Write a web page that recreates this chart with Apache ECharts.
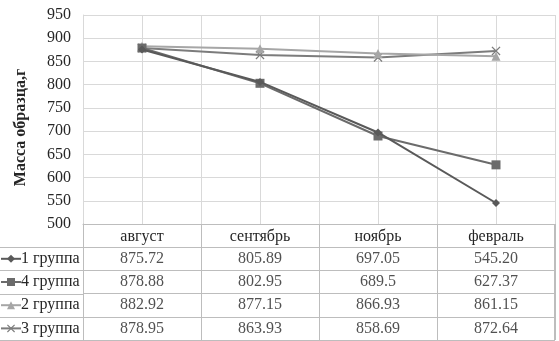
<!DOCTYPE html>
<html>
<head>
<meta charset="utf-8">
<script src="https://cdn.jsdelivr.net/npm/echarts@6/dist/echarts.min.js"></script>
<style>
  html, body { margin: 0; padding: 0; background: #fff; }
  #chart { width: 559px; height: 341px; }
</style>
</head>
<body>
<div id="chart"></div>
<script>
// Months of the sampling campaign
const months = ['август', 'сентябрь', 'ноябрь', 'февраль'];

// Sample mass per group, as printed in the data table (g)
const group1 = ['875.72', '805.89', '697.05', '545.20'];
const group4 = ['878.88', '802.95', '689.5', '627.37'];
const group2 = ['882.92', '877.15', '866.93', '861.15'];
const group3 = ['878.95', '863.93', '858.69', '872.64'];

const seriesNames = ['1 группа', '4 группа', '2 группа', '3 группа'];
const seriesText = [group1, group4, group2, group3];

// Value axis ticks
const yMin = 500, yMax = 950, yStep = 50;

// ---- layout ----
const W = 559, H = 341;
const plotLeft = 83, plotRight = 4, plotTop = 15, plotBottomY = 224;
const tableBottomY = 340;
const rowCount = 5; // header + 4 groups
const rowH = (tableBottomY - plotBottomY) / rowCount;

const FONT = '"Liberation Serif", "Times New Roman", serif';
const FS = 16;
const TEXT = '#262626';
const GRID_LINE = '#d9d9d9';
const TABLE_LINE = '#bdbdbd';

const styles = [
  { color: '#595959', symbol: 'diamond', size: 8 },
  { color: '#6b6b6b', symbol: 'rect', size: 9 },
  { color: '#a6a6a6', symbol: 'triangle', size: 9 },
  { color: '#7c7c7c', symbol: 'path://M0,1L1,0L5,4L9,0L10,1L6,5L10,9L9,10L5,6L1,10L0,9L4,5Z', size: 9 }
];

const lineSeries = seriesNames.map((name, i) => ({
  name: name,
  type: 'line',
  xAxisIndex: 0,
  yAxisIndex: 0,
  data: seriesText[i].map(Number),
  symbol: styles[i].symbol,
  symbolSize: styles[i].size,
  showAllSymbol: true,
  lineStyle: { color: styles[i].color, width: 2 },
  itemStyle: { color: styles[i].color },
  z: 10 - i
}));

// table cell texts placed on the table grid's category axes
const cellData = [];
seriesText.forEach((row, r) => {
  row.forEach((txt, c) => {
    cellData.push({ value: [c, r + 1], label: { formatter: txt } });
  });
});

// left column borders (outside the table grid)
const leftLines = [];
for (let r = 1; r <= rowCount; r++) {
  const y = Math.round(plotBottomY + r * rowH) + 0.5;
  leftLines.push({
    type: 'line',
    shape: { x1: 0, y1: y, x2: plotLeft, y2: y },
    style: { stroke: TABLE_LINE, lineWidth: 1 }
  });
}

const legendTextH = 16;
const legendIconH = 10;

const chart = echarts.init(document.getElementById('chart'), null, { renderer: 'canvas' });

chart.setOption({
  animation: false,
  backgroundColor: '#fff',
  textStyle: { fontFamily: FONT },
  legend: {
    data: seriesNames,
    orient: 'vertical',
    left: 0,
    top: plotBottomY + rowH + (rowH - legendTextH) / 2,
    height: 200,
    itemWidth: 20,
    itemHeight: legendIconH,
    itemGap: rowH - legendTextH,
    padding: 0,
    textStyle: { fontFamily: FONT, fontSize: FS, lineHeight: legendTextH, color: TEXT, padding: [0, 0, 0, -5] }
  },
  grid: [
    { left: plotLeft, right: plotRight, top: plotTop, bottom: H - plotBottomY },
    { left: plotLeft, right: plotRight, top: plotBottomY, bottom: H - tableBottomY }
  ],
  xAxis: [
    {
      type: 'category',
      gridIndex: 0,
      data: months,
      boundaryGap: true,
      axisLine: { show: true, lineStyle: { color: TABLE_LINE } },
      axisTick: { show: false },
      splitLine: { show: false },
      axisLabel: { fontFamily: FONT, fontSize: FS, color: TEXT, margin: 5 }
    },
    {
      // table columns
      type: 'category',
      gridIndex: 1,
      data: months,
      boundaryGap: true,
      axisLine: { show: false },
      axisTick: { show: false },
      axisLabel: { show: false },
      splitLine: { show: true, lineStyle: { color: TABLE_LINE, width: 1 } }
    },
    {
      // vertical gridlines at category centres and borders
      type: 'value',
      gridIndex: 0,
      min: 0,
      max: months.length * 2,
      interval: 1,
      axisLine: { show: false },
      axisTick: { show: false },
      axisLabel: { show: false },
      splitLine: { show: true, lineStyle: { color: GRID_LINE, width: 1 } }
    }
  ],
  yAxis: [
    {
      type: 'value',
      gridIndex: 0,
      min: yMin,
      max: yMax,
      interval: yStep,
      name: 'Масса образца,г',
      nameLocation: 'middle',
      nameGap: 54,
      nameRotate: 90,
      nameTextStyle: { fontFamily: FONT, fontSize: 16, fontWeight: 'bold', color: TEXT, padding: [0, 0, 0, -16] },
      axisLine: { show: true, lineStyle: { color: GRID_LINE } },
      axisTick: { show: false },
      axisLabel: { fontFamily: FONT, fontSize: FS, color: TEXT, margin: 12 },
      splitLine: { show: true, lineStyle: { color: GRID_LINE, width: 1 } }
    },
    {
      // table rows: header + one per group
      type: 'category',
      gridIndex: 1,
      inverse: true,
      data: [''].concat(seriesNames),
      boundaryGap: true,
      axisLine: { show: true, lineStyle: { color: TABLE_LINE } },
      axisTick: { show: false },
      axisLabel: { show: false },
      splitLine: { show: true, lineStyle: { color: TABLE_LINE, width: 1 } }
    }
  ],
  series: lineSeries.concat([
    {
      name: 'table',
      type: 'scatter',
      xAxisIndex: 1,
      yAxisIndex: 1,
      symbolSize: 0.01,
      silent: true,
      data: cellData,
      label: {
        show: true,
        position: 'inside',
        fontFamily: FONT,
        fontSize: FS,
        color: TEXT
      }
    }
  ]),
  graphic: leftLines.concat([
    {
      type: 'line',
      shape: { x1: W - plotRight - 0.5, y1: plotBottomY, x2: W - plotRight - 0.5, y2: tableBottomY },
      style: { stroke: TABLE_LINE, lineWidth: 1 }
    }
  ])
});
</script>
</body>
</html>
